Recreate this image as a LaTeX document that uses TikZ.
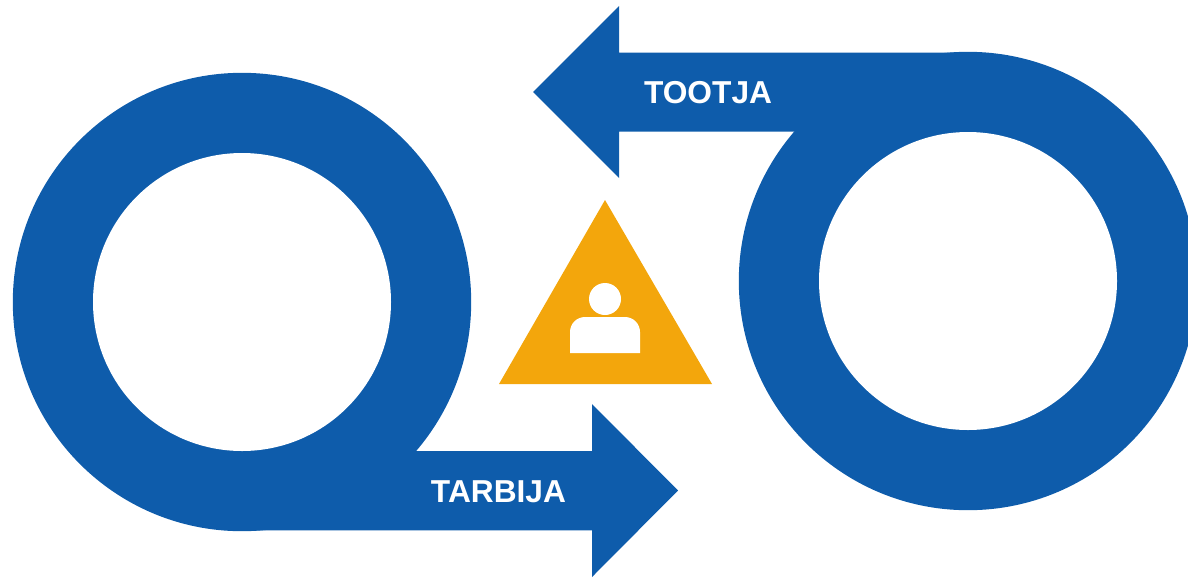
\documentclass[tikz,border=0pt]{standalone}
\usepackage{fontspec}
\setmainfont{Liberation Sans}
\definecolor{ringblue}{HTML}{0E5CAB}
\definecolor{triorange}{HTML}{F3A60C}
\begin{document}
\begin{tikzpicture}[x=1pt,y=-1pt,
  lbl/.style={text=white,font=\bfseries\fontsize{31.7}{32}\selectfont,inner sep=0pt,anchor=center}]
\useasboundingbox (0,0) rectangle (1188,579);
\path[clip] (0,0) rectangle (1188,579);
% left ring with arrow
\fill[ringblue] (242,302) circle[radius=229.2];
\fill[ringblue] (242,451) -- (592,451) -- (592,404) -- (678,490.5) -- (592,577) -- (592,530.3) -- (242,530.3) -- cycle;
\fill[white] (242,302) circle[radius=149];
% right ring with arrow
\fill[ringblue] (968,281) circle[radius=229.2];
\fill[ringblue] (968,131.5) -- (619,131.5) -- (619,178) -- (533,92) -- (619,6) -- (619,52.5) -- (968,52.5) -- cycle;
\fill[white] (968,281) circle[radius=149];
% triangle
\fill[triorange] (605,200) -- (712,384) -- (499,384) -- cycle;
\fill[white] (605,299) circle[radius=16];
\fill[white] (570,353) -- (570,332) arc[start angle=180,end angle=270,radius=15] -- (625,317) arc[start angle=270,end angle=360,radius=15] -- (640,353) -- cycle;
\node[lbl] (tootja) at (708,93) {TOOTJA};
\node[lbl] (tarbija) at (498.5,492) {TARBIJA};
\end{tikzpicture}
\end{document}
